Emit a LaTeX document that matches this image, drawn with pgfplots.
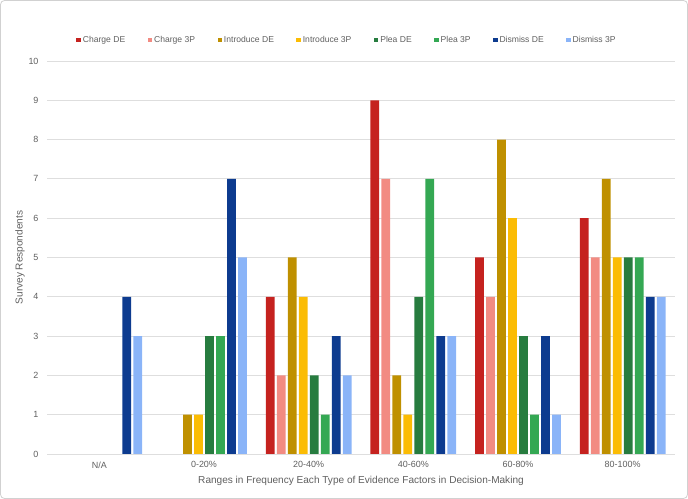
\documentclass[border=0pt]{standalone}
\usepackage{fontspec}
\setmainfont{Liberation Sans}
\usepackage{pgfplots}
\pgfplotsset{compat=1.18}
\definecolor{cA}{HTML}{C5221F}
\definecolor{cB}{HTML}{F28B82}
\definecolor{cC}{HTML}{BF9000}
\definecolor{cD}{HTML}{FBBC04}
\definecolor{cE}{HTML}{277C3F}
\definecolor{cF}{HTML}{34A853}
\definecolor{cG}{HTML}{0D3B8F}
\definecolor{cH}{HTML}{8AB4F8}
\definecolor{txt}{HTML}{5F5F5F}
\begin{document}
\begin{tikzpicture}
\useasboundingbox (0,0) rectangle (688bp,499bp);
\draw[rounded corners=4bp, draw=black!18, line width=0.8bp] (0.5bp,0.5bp) rectangle (687.5bp,498.5bp);
\begin{axis}[
  at={(47bp,45bp)}, anchor=south west,
  scale only axis, width=628bp, height=393bp,
  xmin=-0.5, xmax=5.5, ymin=0, ymax=10,
  ytick={0,1,...,10}, xtick={0,1,2,3,4,5},
  xticklabels={N/A,0-20\%,20-40\%,40-60\%,60-80\%,80-100\%},
  /pgf/number format/assume math mode=true,
  ymajorgrids, grid style={draw=black!13, line width=0.8bp},
  axis line style={draw=none},
  major tick length=0pt,
  ybar=2.3bp, bar width=8.7bp,
  tick label style={font=\fontsize{9}{11}\selectfont, text=txt},
  yticklabel style={xshift=-5bp},
  xticklabel style={yshift=-4bp},
  xlabel={Ranges in Frequency Each Type of Evidence Factors in Decision-Making},
  ylabel={Survey Respondents},
  label style={font=\fontsize{10.1}{12}\selectfont, text=txt},
  xlabel style={at={(axis description cs:0.5,0)}, anchor=center, yshift=-27bp},
  ylabel style={at={(axis description cs:-0.043,0.5)}, anchor=center},
  legend columns=8,
  legend style={at={(axis description cs:0.5,1)}, anchor=south, yshift=13bp, xshift=-14bp, draw=none, fill=none,
    font=\fontsize{8.6}{10}\selectfont, text=txt,
    /tikz/every even column/.append style={column sep=20.5bp},
    /tikz/every odd column/.append style={column sep=0bp}},
  legend image code/.code={\path[#1, draw=none] (0.8bp,-2.5bp) rectangle (5.2bp,1.9bp);},
  every axis plot/.append style={draw=none},
]
\addplot[fill=cA] coordinates {(2,4) (3,9) (4,5) (5,6)};
\addplot[fill=cB] coordinates {(2,2) (3,7) (4,4) (5,5)};
\addplot[fill=cC] coordinates {(1,1) (2,5) (3,2) (4,8) (5,7)};
\addplot[fill=cD] coordinates {(1,1) (2,4) (3,1) (4,6) (5,5)};
\addplot[fill=cE] coordinates {(1,3) (2,2) (3,4) (4,3) (5,5)};
\addplot[fill=cF] coordinates {(1,3) (2,1) (3,7) (4,1) (5,5)};
\addplot[fill=cG] coordinates {(0,4) (1,7) (2,3) (3,3) (4,3) (5,4)};
\addplot[fill=cH] coordinates {(0,3) (1,5) (2,2) (3,3) (4,1) (5,4)};
\legend{Charge DE,Charge 3P,Introduce DE,Introduce 3P,Plea DE,Plea 3P,Dismiss DE,Dismiss 3P}
\end{axis}
\end{tikzpicture}
\end{document}
